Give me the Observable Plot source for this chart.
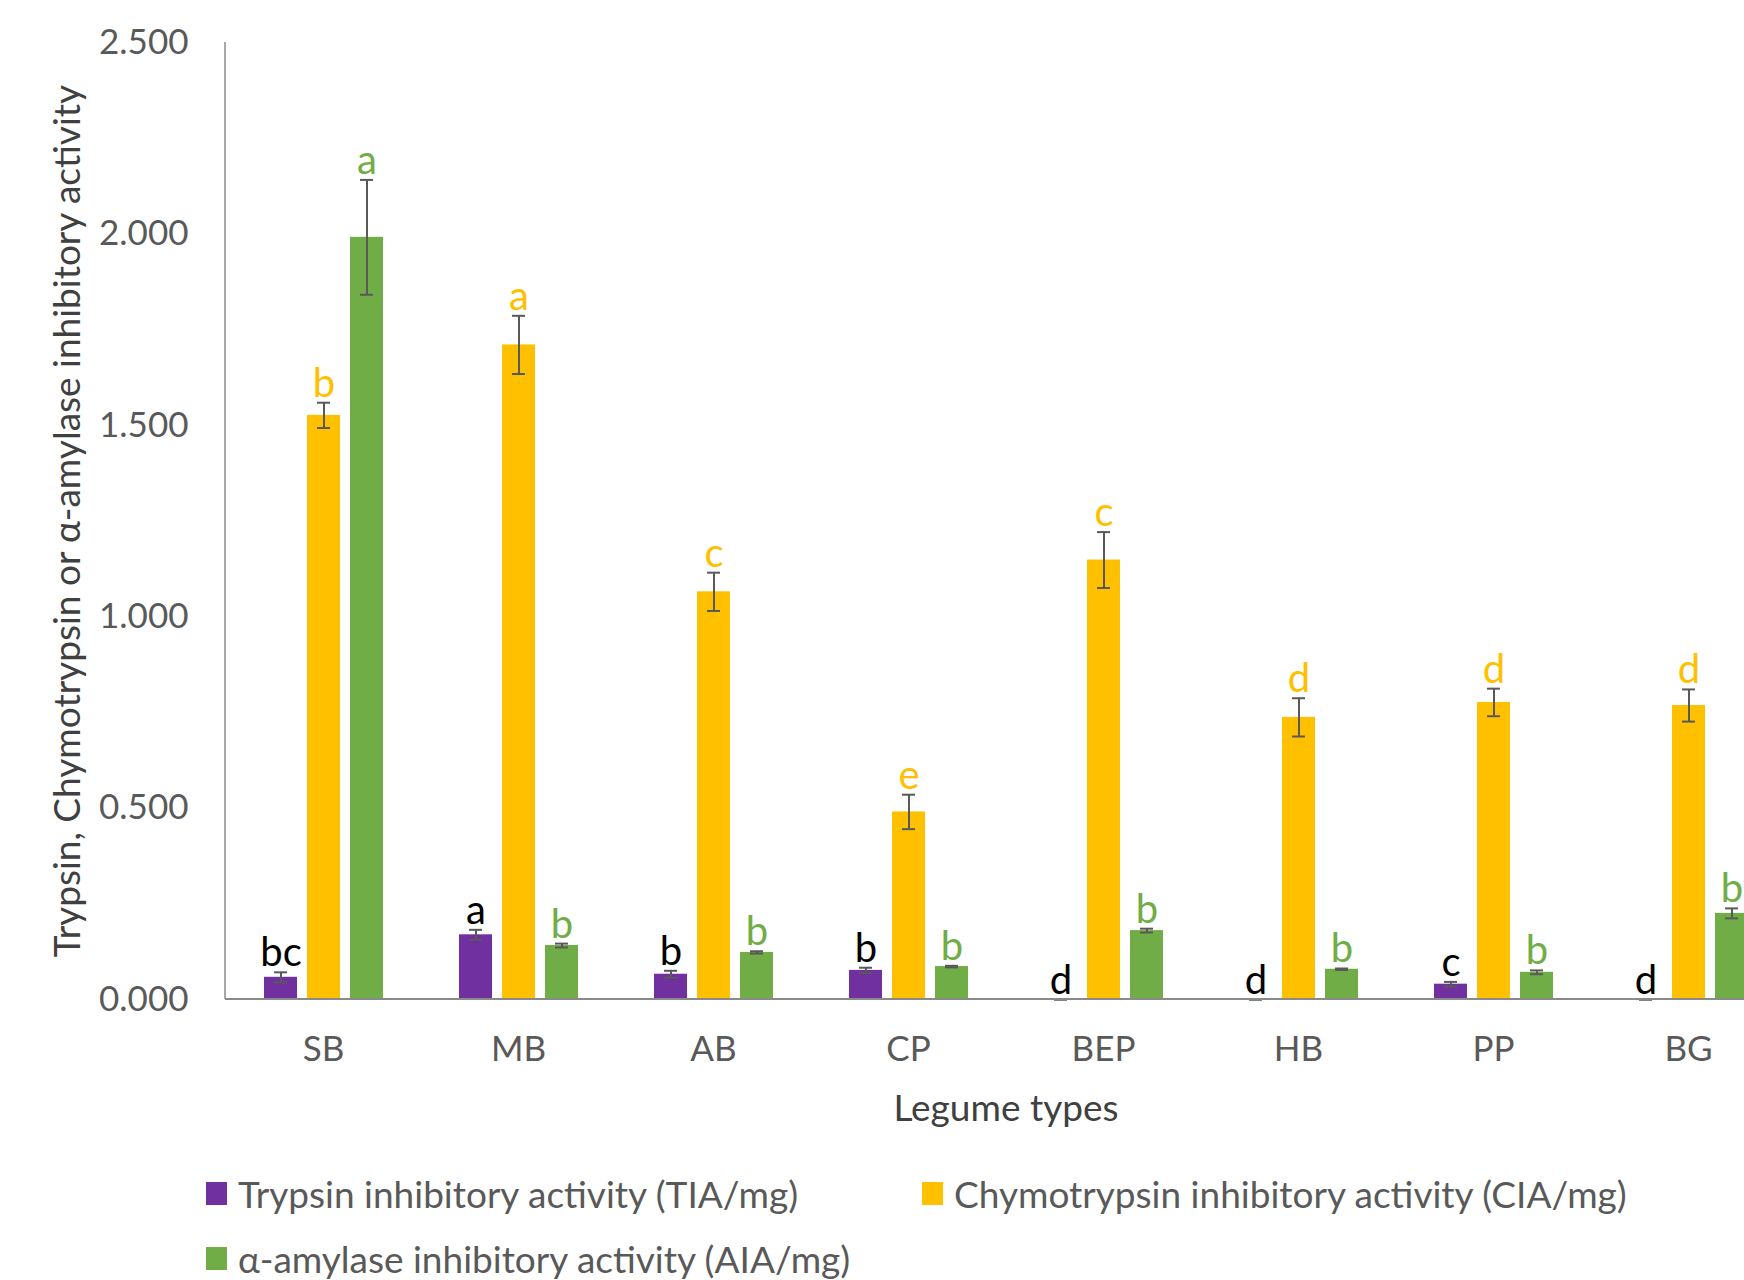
<!DOCTYPE html>
<html><head><meta charset="utf-8">
<script src="https://cdn.jsdelivr.net/npm/d3@7"></script>
<script src="https://cdn.jsdelivr.net/npm/@observablehq/plot@0.6"></script>
<style>
html,body{margin:0;padding:0;background:#fff;overflow:hidden;width:1744px;height:1280px;}
#chart{width:1800px;}
.legend{display:grid;grid-template-columns:716px 716px;padding-left:206px;margin-top:11px;font-family:Lato,sans-serif;font-size:37px;color:#595959;}
.item{display:flex;align-items:center;height:65px;white-space:nowrap}
.sw{width:21px;height:23px;margin-right:11px;flex:none}
</style></head><body><div id="chart"></div><script>
const legumes = ["SB","MB","AB","CP","BEP","HB","PP","BG"];
const tia    = [0.058, 0.169, 0.066, 0.076, 0, 0, 0.040, 0];
const tiaErr = [0.013, 0.013, 0.009, 0.007, 0, 0, 0.006, 0];
const tiaSig = ["bc","a","b","b","d","d","c","d"];
const cia    = [1.526, 1.710, 1.065, 0.490, 1.148, 0.737, 0.776, 0.768];
const ciaErr = [0.033, 0.076, 0.050, 0.045, 0.073, 0.050, 0.036, 0.042];
const ciaSig = ["b","a","c","e","c","d","d","d"];
const aia    = [1.991, 0.141, 0.123, 0.086, 0.180, 0.079, 0.071, 0.225];
const aiaErr = [0.150, 0.005, 0.003, 0.002, 0.005, 0.002, 0.005, 0.013];
const aiaSig = ["a","b","b","b","b","b","b","b"];
const series = ["TIA","CIA","AIA"];
const seriesNames = ["Trypsin inhibitory activity (TIA/mg)","Chymotrypsin inhibitory activity (CIA/mg)","α-amylase inhibitory activity (AIA/mg)"];
const barColors = ["#7030A0","#FFC000","#70AD47"];
const labelColors = ["#000000","#FFC000","#70AD47"];
const yTicks = [0, 0.5, 1, 1.5, 2, 2.5];
const yTitle = "Trypsin, Chymotrypsin or α-amylase inhibitory activity";
const xTitle = "Legume types";

const values = [tia, cia, aia], errs = [tiaErr, ciaErr, aiaErr], sigs = [tiaSig, ciaSig, aiaSig];
const rows = [];
legumes.forEach((g, i) => series.forEach((s, k) => rows.push({
  legume: g, series: s, value: values[k][i], err: errs[k][i], sig: sigs[k][i],
  lo: values[k][i] - errs[k][i], hi: values[k][i] + errs[k][i]
})));

const mL = 225, mR = 15, W = 1800;
const chart = Plot.plot({
  width: W, height: 1150,
  marginLeft: mL, marginRight: mR, marginTop: 42, marginBottom: 151,
  style: {fontFamily: "Lato, sans-serif", background: "#fff", color: "#595959", overflow: "visible"},
  fx: {domain: legumes, paddingInner: 0.385, paddingOuter: 0.1925},
  x: {domain: series, paddingInner: 0.24, paddingOuter: 0, axis: null},
  y: {domain: [0, 2.5]},
  color: {domain: series, range: barColors},
  marks: [
    Plot.axisY({ticks: yTicks, tickFormat: d3.format(".3f"), tickSize: 0, tickPadding: 75, fontSize: 35,
      label: yTitle, labelAnchor: "center", labelOffset: 210, labelArrow: "none"}),
    Plot.axisFx({anchor: "bottom", tickSize: 0, tickPadding: 37, fontSize: 35,
      label: xTitle, labelAnchor: "center", labelOffset: 121, labelArrow: "none"}),
    Plot.barY(rows, {fx: "legume", x: "series", y: "value", fill: "series"}),
    Plot.ruleX(rows, {fx: "legume", x: "series", y1: "lo", y2: "hi", stroke: "#595959", strokeWidth: 2}),
    Plot.tickY(rows, {fx: "legume", x: "series", y: "hi", stroke: "#595959", strokeWidth: 2, inset: 10}),
    Plot.tickY(rows, {fx: "legume", x: "series", y: "lo", stroke: "#595959", strokeWidth: 2, inset: 10}),
    ...series.map((s, k) => Plot.text(rows.filter(d => d.series === s), {
      fx: "legume", x: "series", y: "hi", text: "sig", fill: labelColors[k],
      fontSize: 40, dy: -6, lineAnchor: "bottom"
    }))
  ]
});
const ys = chart.scale("y");
const sel = d3.select(chart);
sel.append("line").attr("x1", mL).attr("x2", mL).attr("y1", ys.apply(2.5)).attr("y2", ys.apply(0))
  .attr("stroke", "#8a8a8a").attr("stroke-width", 1.5);
sel.append("line").attr("x1", mL).attr("x2", W - mR).attr("y1", ys.apply(0)).attr("y2", ys.apply(0))
  .attr("stroke", "#8a8a8a").attr("stroke-width", 2);
sel.selectAll('g[aria-label$="axis label"] text').attr("fill", "#404040").attr("font-size", 37);
document.getElementById("chart").appendChild(chart);

const leg = document.createElement("div");
leg.className = "legend";
series.forEach((s, k) => {
  const it = document.createElement("div"); it.className = "item";
  const sw = document.createElement("span"); sw.className = "sw"; sw.style.background = barColors[k];
  const tx = document.createElement("span"); tx.textContent = seriesNames[k];
  it.appendChild(sw); it.appendChild(tx); leg.appendChild(it);
});
document.getElementById("chart").appendChild(leg);
</script></body></html>
